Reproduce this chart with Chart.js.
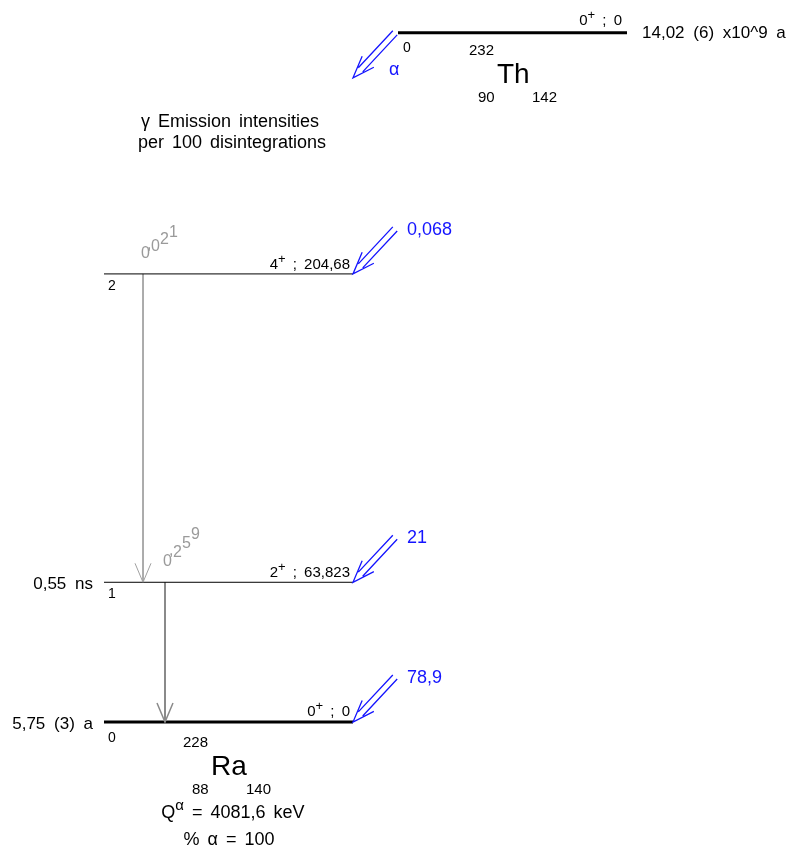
<!DOCTYPE html>
<html>
<head>
<meta charset="utf-8">
<script src="https://cdn.jsdelivr.net/npm/chart.js@4/dist/chart.umd.min.js"></script>
<style>
html,body{margin:0;padding:0;background:#fff;}
#wrap{width:795px;height:855px;position:relative;}
</style>
</head>
<body>
<div id="wrap"><canvas id="c"></canvas></div>
<script>
// ---- Data (228Ra levels fed by alpha decay of 232Th) ----
const levelEnergy = [0, 63.823, 204.68];            // keV
const levelIndex = ['0', '1', '2'];
const levelSpin = ['0', '2', '4'];
const levelParity = ['+', '+', '+'];
const levelEnergyLabel = ['0', '63,823', '204,68'];
const levelHalfLife = ['5,75 (3) a', '0,55 ns', ''];
const alphaIntensity = ['78,9', '21', '0,068'];      // alpha feeding per 100 disintegrations
const gammaFrom = [2, 1];
const gammaTo = [1, 0];
const gammaIntensity = ['0,021', '0,259'];           // gamma emission intensities
const parentDisplayEnergy = 314.8;                    // drawn position of parent level
const parentSpin = '0', parentParity = '+', parentEnergyLabel = '0';
const parentHalfLife = '14,02 (6) x10^9 a';
const parentNuclide = {A: '232', Z: '90', N: '142', sym: 'Th'};
const daughterNuclide = {A: '228', Z: '88', N: '140', sym: 'Ra'};
const qAlpha = '4081,6';
const percentAlpha = '100';

// ---- Layout ----
const LX0 = 104, LX1 = 353, PX0 = 398, PX1 = 627;
const GX = [143, 165];
const GSTEP = [[9, -7], [9, -9]];
const FONT = "'Liberation Sans', Arial, sans-serif";
const BLUE = '#1414ff';

const datasets = [];
levelEnergy.forEach((e, i) => {
  datasets.push({data: [{x: LX0, y: e}, {x: LX1, y: e}], showLine: true, borderColor: '#000',
    borderWidth: e === 0 ? 3 : 1, pointRadius: 0, fill: false});
});
datasets.push({data: [{x: PX0, y: parentDisplayEnergy}, {x: PX1, y: parentDisplayEnergy}], showLine: true,
  borderColor: '#000', borderWidth: 3, pointRadius: 0});
gammaFrom.forEach((f, i) => {
  datasets.push({data: [{x: GX[i], y: levelEnergy[f]}, {x: GX[i], y: levelEnergy[gammaTo[i]]}], showLine: true,
    borderColor: i === 0 ? '#a0a0a0' : '#8a8a8a', borderWidth: i === 0 ? 1 : 2, pointRadius: 0});
});

function runsOf(ctx, segs, size, extra) {
  const out = [];
  segs.forEach(s => {
    const sz = s.sup ? Math.round(size * 0.85) : size;
    const font = sz + 'px ' + FONT;
    ctx.font = font;
    const parts = s.t.split(/( )/);
    parts.forEach(p => {
      if (p === '') return;
      let w = ctx.measureText(p).width;
      if (p === ' ') w += extra;
      out.push({t: p, font, w, dy: s.sup ? -size * 0.42 : 0});
    });
  });
  return out;
}
function drawRich(ctx, segs, x, y, o) {
  const size = o.size || 14, extra = o.extra || 0;
  const runs = runsOf(ctx, segs, size, extra);
  const total = runs.reduce((a, r) => a + r.w, 0);
  let cx = x;
  if (o.align === 'right') cx = x - total;
  else if (o.align === 'center') cx = x - total / 2;
  ctx.fillStyle = o.color || '#000';
  ctx.textAlign = 'left';
  ctx.textBaseline = 'alphabetic';
  runs.forEach(r => {
    ctx.font = r.font;
    if (r.t !== ' ') ctx.fillText(r.t, cx, y + r.dy);
    cx += r.w;
  });
}
function txt(ctx, s, x, y, o) { drawRich(ctx, [{t: s}], x, y, o || {}); }

function feedArrow(ctx, tx, ty, color) {
  const dx = 42, dy = -45;
  const L = Math.hypot(dx, dy), ux = dx / L, uy = dy / L; // direction from tip back to tail
  const nx = -uy, ny = ux;
  ctx.save();
  ctx.strokeStyle = color; ctx.lineWidth = 1.3;
  ctx.beginPath();
  [-3, 3].forEach(off => {
    ctx.moveTo(tx + ux * L + nx * off, ty + uy * L + ny * off);
    ctx.lineTo(tx + ux * 11 + nx * off, ty + uy * 11 + ny * off);
  });
  ctx.moveTo(tx + ux * 22 + nx * 8, ty + uy * 22 + ny * 8);
  ctx.lineTo(tx, ty);
  ctx.lineTo(tx + ux * 22 - nx * 8, ty + uy * 22 - ny * 8);
  ctx.stroke();
  ctx.restore();
}
function diagText(ctx, s, x, y, color, size, step) {
  ctx.save();
  ctx.font = size + 'px ' + FONT;
  ctx.fillStyle = color; ctx.textAlign = 'left'; ctx.textBaseline = 'alphabetic';
  let cx = x, cy = y;
  for (const ch of s) {
    if (ch === ',') { ctx.fillText(',', cx - 3, cy - 2); cx += 1; continue; }
    ctx.fillText(ch, cx, cy);
    cx += step[0]; cy += step[1];
  }
  ctx.restore();
}

const scheme = {
  id: 'scheme',
  afterDatasetsDraw(chart) {
    const ctx = chart.ctx;
    const X = v => chart.scales.x.getPixelForValue(v);
    const Y = v => chart.scales.y.getPixelForValue(v);
    ctx.save();
    // gamma arrowheads and intensities
    gammaFrom.forEach((f, i) => {
      const gx = X(GX[i]), yt = Y(levelEnergy[gammaTo[i]]);
      ctx.strokeStyle = i === 0 ? '#a0a0a0' : '#8a8a8a';
      ctx.lineWidth = i === 0 ? 1 : 1.5;
      ctx.beginPath();
      ctx.moveTo(gx - 8, yt - 19); ctx.lineTo(gx, yt); ctx.lineTo(gx + 8, yt - 19);
      ctx.stroke();
      const yf = Y(levelEnergy[f]);
      diagText(ctx, gammaIntensity[i], gx - 2, yf - 16, '#9a9a9a', 16, GSTEP[i]);
    });
    // levels text
    levelEnergy.forEach((e, i) => {
      const y = Y(e), thick = e === 0;
      drawRich(ctx, [{t: levelSpin[i]}, {t: levelParity[i], sup: true}, {t: ' ; ' + levelEnergyLabel[i]}],
        X(LX1) - 3, y - (thick ? 6 : 5), {size: 15, align: 'right', extra: 3});
      txt(ctx, levelIndex[i], X(LX0) + 4, y + (thick ? 20 : 16), {size: 14});
      if (levelHalfLife[i]) txt(ctx, levelHalfLife[i], X(LX0) - 11, y + 7, {size: 17, align: 'right', extra: 4});
      feedArrow(ctx, X(LX1), y, BLUE);
      txt(ctx, alphaIntensity[i], X(LX1) + 54, y - 39, {size: 18, color: BLUE});
    });
    // parent level
    const py = Y(parentDisplayEnergy);
    drawRich(ctx, [{t: parentSpin}, {t: parentParity, sup: true}, {t: ' ; ' + parentEnergyLabel}],
      X(PX1) - 5, py - 8, {size: 15, align: 'right', extra: 3});
    txt(ctx, '0', X(PX0) + 5, py + 19, {size: 14});
    txt(ctx, parentHalfLife, X(PX1) + 15, py + 5, {size: 17, extra: 4});
    feedArrow(ctx, X(PX0) - 45, py + 45, BLUE);
    txt(ctx, 'α', X(PX0) - 9, py + 42, {size: 18, color: BLUE});
    // nuclide symbols
    const nuc = (n, x, y) => {
      txt(ctx, n.A, x, y, {size: 15});
      txt(ctx, n.sym, x + 28, y + 28, {size: 28});
      txt(ctx, n.Z, x + 9, y + 47, {size: 15});
      txt(ctx, n.N, x + 63, y + 47, {size: 15});
    };
    nuc(parentNuclide, 469, py + 22);
    nuc(daughterNuclide, 183, Y(0) + 25);
    // title
    txt(ctx, 'γ Emission intensities', 230, 127, {size: 18, align: 'center', extra: 3});
    txt(ctx, 'per 100 disintegrations', 232, 148, {size: 18, align: 'center', extra: 3});
    // Q value & branching
    drawRich(ctx, [{t: 'Q'}, {t: 'α', sup: true}, {t: ' = ' + qAlpha + ' keV'}], 233, Y(0) + 96, {size: 18, align: 'center', extra: 3});
    txt(ctx, '% α = ' + percentAlpha, 229, Y(0) + 123, {size: 18, align: 'center', extra: 3});
    ctx.restore();
  }
};

new Chart(document.getElementById('c'), {
  type: 'scatter',
  data: {datasets},
  options: {
    responsive: true, maintainAspectRatio: false, animation: false,
    layout: {padding: 0},
    plugins: {legend: {display: false}, tooltip: {enabled: false}, title: {display: false}},
    scales: {
      x: {type: 'linear', min: 0, max: 795, display: false},
      y: {type: 'linear', min: -60.76, max: 329.8, display: false}
    },
    elements: {line: {tension: 0}}
  },
  plugins: [scheme]
});
</script>
</body>
</html>
